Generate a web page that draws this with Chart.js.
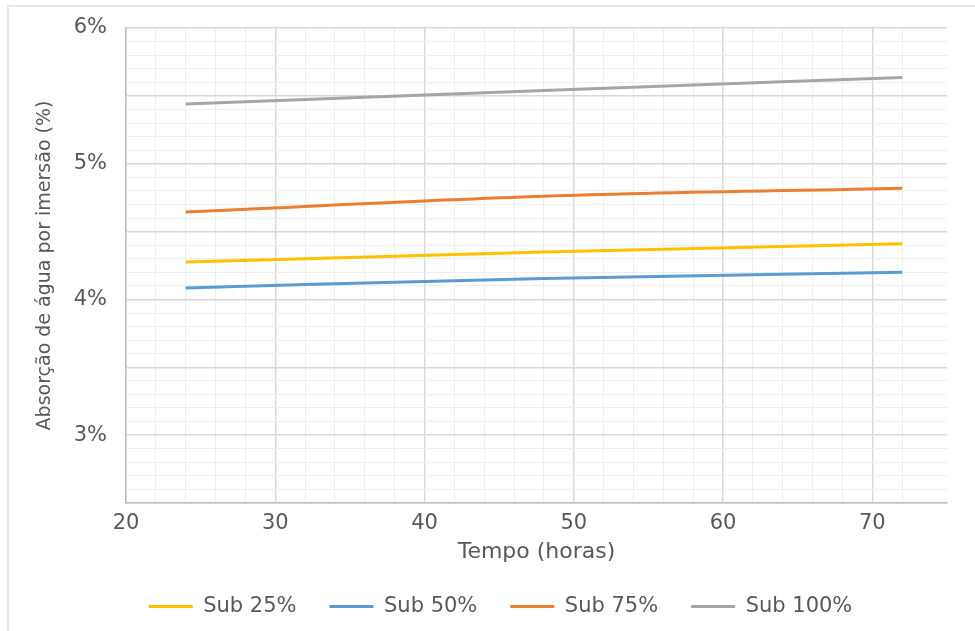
<!DOCTYPE html>
<html>
<head>
<meta charset="utf-8">
<script src="https://cdn.jsdelivr.net/npm/chart.js@4/dist/chart.umd.min.js"></script>
<style>
  html, body { margin: 0; padding: 0; background: #fff; }
  #wrap { position: relative; width: 975px; height: 631px; }
  #frame { position: absolute; left: 7px; top: 5px; right: 0; bottom: 0; border-top: 2px solid #e6e6e6; border-left: 2px solid #e6e6e6; }
  #chart { position: absolute; left: 0; top: 0; }
</style>
</head>
<body>
<div id="wrap">
  <div id="frame"></div>
  <canvas id="chart" width="975" height="631"></canvas>
</div>
<script>
/* water absorption by immersion */
const hours = [24, 48, 72];
const sub25 = [4.275, 4.35, 4.41];
const sub50 = [4.085, 4.155, 4.20];
const sub75 = [4.645, 4.76, 4.82];
const sub100 = [5.44, 5.54, 5.635];
const seriesNames = ['Sub 25%', 'Sub 50%', 'Sub 75%', 'Sub 100%'];
const seriesColors = ['#ffc000', '#5b9bd5', '#ed7d31', '#a5a5a5'];
const xTickLabels = [20, 30, 40, 50, 60, 70];
const yTickLabels = [3, 4, 5, 6];

(function () {
  const FONT = "'DejaVu Sans', sans-serif";
  const TXT = '#595959';
  const near = (a, b) => Math.abs(a - b) < 1e-6;

  const toPts = arr => arr.map((v, i) => ({ x: hours[i], y: v }));
  const datasets = [sub25, sub50, sub75, sub100].map((arr, i) => ({
    label: seriesNames[i],
    data: toPts(arr),
    borderColor: seriesColors[i],
    backgroundColor: seriesColors[i],
    borderWidth: 3,
    pointRadius: 0,
    cubicInterpolationMode: 'monotone',
    fill: false,
  }));

  /* ── legend sizing: fixed height, nudged right ── */
  const legendFit = {
    id: 'legendFit',
    afterInit(chart) {
      const lg = chart.legend;
      const fit = lg.fit;
      lg.fit = function () { fit.call(this); this.height = 68; };
    },
    afterLayout(chart) {
      chart.legend.left += 27;
      chart.legend.right += 27;
    }
  };

  new Chart(document.getElementById('chart').getContext('2d'), {
    type: 'line',
    data: { datasets },
    plugins: [legendFit],
    options: {
      responsive: false,
      animation: false,
      layout: { padding: { top: 28, right: 28, bottom: 0, left: 0 } },
      plugins: {
        tooltip: { enabled: false },
        legend: {
          position: 'bottom',
          labels: {
            font: { family: FONT, size: 21 },
            color: TXT,
            boxWidth: 44,
            boxHeight: 3,
            padding: 33,
            generateLabels(chart) {
              return Chart.defaults.plugins.legend.labels.generateLabels(chart)
                .map(l => Object.assign(l, { lineWidth: 0, fillStyle: l.strokeStyle }));
            }
          }
        }
      },
      scales: {
        x: {
          type: 'linear',
          min: 20, max: 75,
          afterFit(s) { s.height = 60; },
          border: { display: true, color: '#bfbfbf', width: 1.5 },
          grid: {
            drawTicks: false,
            color: c => near(c.tick.value, 75) ? 'rgba(0,0,0,0)'
              : (c.tick.value % 10 === 0 ? '#d9d9d9' : '#eeeeee'),
            lineWidth: c => (c.tick.value % 10 === 0 ? 1.5 : 1),
          },
          ticks: {
            stepSize: 2,
            autoSkip: false,
            maxRotation: 0,
            padding: 8,
            font: { family: FONT, size: 21 },
            color: TXT,
            callback: v => (xTickLabels.includes(v) ? String(v) : ''),
          },
          title: {
            display: true,
            text: 'Tempo (horas)',
            font: { family: FONT, size: 22, lineHeight: 1 },
            color: TXT,
            padding: { top: 0, bottom: 0 },
          }
        },
        y: {
          min: 2.5, max: 6,
          afterFit(s) { s.width = 126; },
          border: { display: true, color: '#bfbfbf', width: 1.5 },
          grid: {
            drawTicks: false,
            color: c => (near(c.tick.value * 2, Math.round(c.tick.value * 2)) ? '#d9d9d9' : '#eeeeee'),
            lineWidth: c => (near(c.tick.value * 2, Math.round(c.tick.value * 2)) ? 1.5 : 1),
          },
          ticks: {
            stepSize: 0.1,
            autoSkip: false,
            padding: 19,
            font: { family: FONT, size: 21, lineHeight: 0.8 },
            color: TXT,
            callback: v => {
              const hit = yTickLabels.find(t => near(t, v));
              return hit !== undefined ? hit + '%' : '';
            },
          },
          title: {
            display: true,
            text: 'Absorção de água por imersão (%)',
            font: { family: FONT, size: 19 },
            color: TXT,
            padding: { top: 34, bottom: 0 },
          }
        }
      }
    }
  });
})();
</script>
</body>
</html>
